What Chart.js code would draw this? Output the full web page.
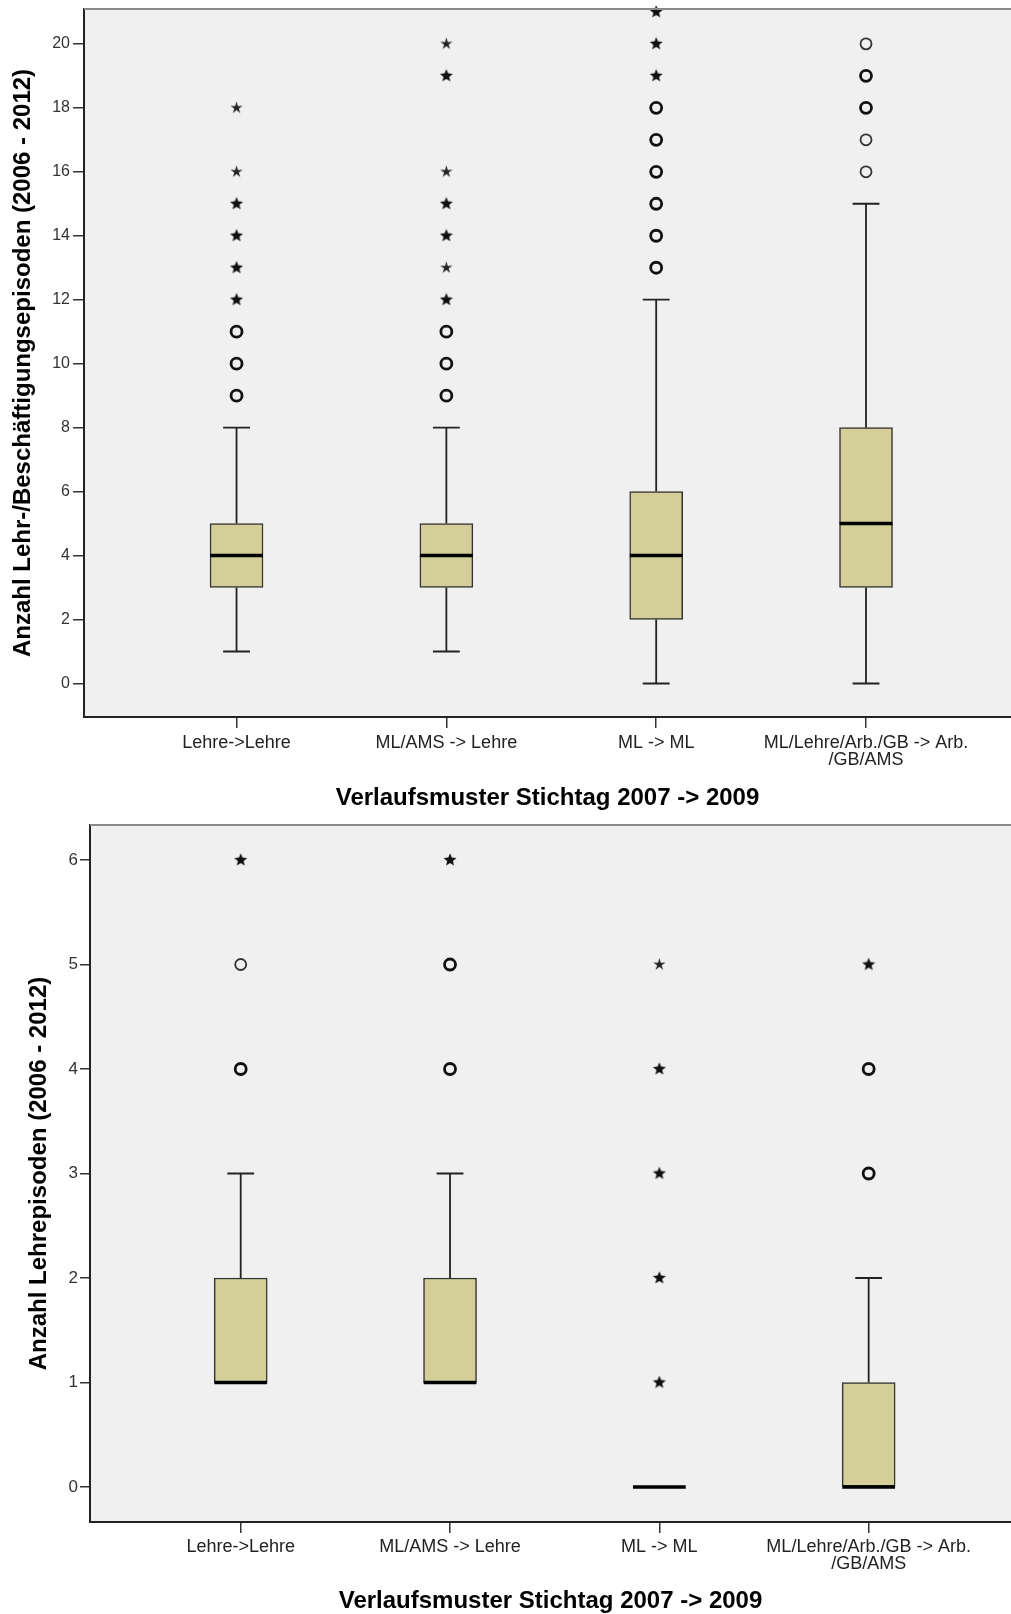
<!DOCTYPE html>
<html lang="de">
<head>
<meta charset="utf-8">
<title>Verlaufsmuster Stichtag 2007 -> 2009</title>
<script src="https://cdn.jsdelivr.net/npm/chart.js@4.4.1/dist/chart.umd.min.js"></script>
<style>
  body { margin: 0; background: #fff; overflow: hidden; }
  canvas { display: block; }
</style>
</head>
<body>
<canvas id="epiChart" width="1011" height="812"></canvas>
<canvas id="lehChart" width="1011" height="802"></canvas>
<script>
// -------------------------
// Data
// -------------------------
const categories = [
  ["Lehre->Lehre"],
  ["ML/AMS -> Lehre"],
  ["ML -> ML"],
  ["ML/Lehre/Arb./GB -> Arb.", "/GB/AMS"],
];
const xTitle = "Verlaufsmuster Stichtag 2007 -> 2009";

// Anzahl Lehr-/Beschäftigungsepisoden
const epiTicks = [0, 2, 4, 6, 8, 10, 12, 14, 16, 18, 20];
const epiLow = [1, 1, 0, 0];
const epiQ1 = [3, 3, 2, 3];
const epiMedian = [4, 4, 4, 5];
const epiQ3 = [5, 5, 6, 8];
const epiHigh = [8, 8, 12, 15];
const epiCircleBold = [[9, 10, 11], [9, 10, 11], [13, 14, 15, 16, 17, 18], [18, 19]];
const epiCircleThin = [[], [], [], [16, 17, 20]];
const epiStarBold = [[12, 13, 14, 15], [12, 14, 15, 19], [19, 20, 21], []];
const epiStarThin = [[16, 18], [13, 16, 20], [], []];

// Anzahl Lehrepisoden
const lehTicks = [0, 1, 2, 3, 4, 5, 6];
const lehLow = [1, 1, 0, 0];
const lehQ1 = [1, 1, 0, 0];
const lehMedian = [1, 1, 0, 0];
const lehQ3 = [2, 2, 0, 1];
const lehHigh = [3, 3, 0, 2];
const lehCircleBold = [[4], [4, 5], [], [3, 4]];
const lehCircleThin = [[5], [], [], []];
const lehStarBold = [[6], [6], [1, 2, 3, 4], [5]];
const lehStarThin = [[], [], [5], []];

// -------------------------
// Styles
// -------------------------
Chart.defaults.font.family = "'Liberation Sans', Arial, Helvetica, sans-serif";
const BOX_FILL = "#d4cf98";
const CAP = 0.064;      // half width of whisker caps (x units)
const HALF_BOX = 0.126; // half width of the box (x units)

function makeStar(outer, inner, color) {
  const c = document.createElement("canvas");
  const size = Math.ceil(outer * 2 + 2);
  c.width = size;
  c.height = size;
  const ctx = c.getContext("2d");
  ctx.fillStyle = color;
  ctx.beginPath();
  for (let k = 0; k < 10; k++) {
    const r = k % 2 ? inner : outer;
    const a = -Math.PI / 2 + (k * Math.PI) / 5;
    ctx.lineTo(size / 2 + r * Math.cos(a), size / 2 + r * Math.sin(a));
  }
  ctx.closePath();
  ctx.fill();
  return c;
}
const starBold = makeStar(6.8, 3.0, "#111");
const starThin = makeStar(6.5, 2.3, "#222");

// plot background + top frame line
const plotFrame = {
  id: "plotFrame",
  beforeDraw(chart) {
    const { ctx, chartArea: a } = chart;
    ctx.save();
    ctx.fillStyle = "#f0f0f0";
    ctx.fillRect(a.left, a.top, a.right - a.left, a.bottom - a.top);
    ctx.restore();
  },
  afterDatasetsDraw(chart) {
    const { ctx, chartArea: a } = chart;
    ctx.save();
    ctx.strokeStyle = "#8a8a8a";
    ctx.lineWidth = 2;
    ctx.beginPath();
    ctx.moveTo(a.left, a.top);
    ctx.lineTo(a.right, a.top);
    ctx.stroke();
    ctx.restore();
  },
};

// -------------------------
// Build box plot datasets
// -------------------------
function points(groups) {
  return groups.flatMap((vals, i) => vals.map(v => ({ x: i, y: v })));
}

function boxDatasets(d) {
  const whiskers = [];
  const medians = [];
  categories.forEach((_, i) => {
    if (d.high[i] > d.q3[i]) {
      whiskers.push({ x: i, y: d.q3[i] }, { x: i, y: d.high[i] }, { x: i, y: null });
      whiskers.push({ x: i - CAP, y: d.high[i] }, { x: i + CAP, y: d.high[i] }, { x: i, y: null });
    }
    if (d.low[i] < d.q1[i]) {
      whiskers.push({ x: i, y: d.q1[i] }, { x: i, y: d.low[i] }, { x: i, y: null });
      whiskers.push({ x: i - CAP, y: d.low[i] }, { x: i + CAP, y: d.low[i] }, { x: i, y: null });
    }
    medians.push({ x: i - HALF_BOX, y: d.median[i] }, { x: i + HALF_BOX, y: d.median[i] }, { x: i, y: null });
  });

  const marks = (data, style, width, color) => ({
    type: "line",
    showLine: false,
    order: 0,
    clip: false,
    data,
    pointStyle: style,
    pointRadius: 5.5,
    pointBorderWidth: width,
    pointBorderColor: color,
    pointBackgroundColor: "rgba(0,0,0,0)",
  });

  return [
    {
      type: "line",
      order: 3,
      data: whiskers,
      borderColor: "#222",
      borderWidth: 1.8,
      pointRadius: 0,
      spanGaps: false,
    },
    {
      type: "bar",
      order: 2,
      data: categories.map((_, i) => ({ x: i, y: [d.q1[i], d.q3[i]] })),
      backgroundColor: BOX_FILL,
      borderColor: "#333",
      borderWidth: 1.5,
      borderSkipped: false,
      barThickness: 53,
    },
    {
      type: "line",
      order: 1,
      data: medians,
      borderColor: "#000",
      borderWidth: 3.5,
      pointRadius: 0,
      spanGaps: false,
    },
    marks(points(d.circleBold), "circle", 2.8, "#111"),
    marks(points(d.circleThin), "circle", 1.8, "#333"),
    marks(points(d.starBold), starBold, 1, "#111"),
    marks(points(d.starThin), starThin, 1, "#333"),
  ];
}

// -------------------------
// Build chart
// -------------------------
function buildBoxChart(id, d, s) {
  return new Chart(document.getElementById(id), {
    type: "bar",
    data: { datasets: boxDatasets(d) },
    plugins: [plotFrame],
    options: {
      responsive: false,
      animation: false,
      events: [],
      devicePixelRatio: 1,
      layout: { autoPadding: false, padding: { top: s.padTop, left: 0, right: 0, bottom: 0 } },
      plugins: { legend: { display: false }, tooltip: { enabled: false } },
      scales: {
        x: {
          type: "linear",
          min: s.xMin,
          max: s.xMax,
          offset: false,
          afterBuildTicks: sc => { sc.ticks = categories.map((_, i) => ({ value: i })); },
          afterFit: sc => {
            sc.height = s.xHeight;
            sc.paddingLeft = 0;
            sc.paddingRight = 0;
          },
          ticks: {
            autoSkip: false,
            maxRotation: 0,
            minRotation: 0,
            padding: s.xTickPad,
            color: "#222",
            font: { size: 18, lineHeight: 0.97 },
            callback: v => categories[v],
          },
          grid: { offset: false, drawOnChartArea: false, drawTicks: true, tickLength: 11, color: "#333", lineWidth: 1.5 },
          border: { display: true, color: "#222", width: 2 },
          title: {
            display: true,
            text: xTitle,
            color: "#000",
            font: { size: 24, weight: "bold", lineHeight: 0.8 },
            padding: { top: 0, bottom: s.xTitlePad },
          },
        },
        y: {
          min: s.yMin,
          max: s.yMax,
          afterBuildTicks: sc => { sc.ticks = d.ticks.map(v => ({ value: v })); },
          afterFit: sc => {
            sc.width = s.yWidth;
            sc.paddingTop = 0;
            sc.paddingBottom = 0;
          },
          ticks: { padding: s.yTickPad, color: "#333", font: { size: s.yTickSize } },
          grid: { drawOnChartArea: false, drawTicks: true, tickLength: s.yTickLen, color: "#333", lineWidth: 1.5 },
          border: { display: true, color: "#222", width: 2 },
          title: {
            display: true,
            text: s.yTitle,
            color: "#000",
            font: { size: 24, weight: "bold", lineHeight: 1.2 },
            padding: { top: s.yTitlePad, bottom: 0 },
          },
        },
      },
    },
  });
}

buildBoxChart("epiChart", {
  ticks: epiTicks, low: epiLow, q1: epiQ1, median: epiMedian, q3: epiQ3, high: epiHigh,
  circleBold: epiCircleBold, circleThin: epiCircleThin, starBold: epiStarBold, starThin: epiStarThin,
}, {
  yTitle: "Anzahl Lehr-/Beschäftigungsepisoden (2006 - 2012)",
  yMin: -1.048, yMax: 21.09, xMin: -0.727, xMax: 3.691,
  padTop: 9, yWidth: 84, xHeight: 95,
  yTitlePad: 9, yTickPad: 3, yTickLen: 11, yTickSize: 16,
  xTickPad: 6, xTitlePad: 4.4,
});

buildBoxChart("lehChart", {
  ticks: lehTicks, low: lehLow, q1: lehQ1, median: lehMedian, q3: lehQ3, high: lehHigh,
  circleBold: lehCircleBold, circleThin: lehCircleThin, starBold: lehStarBold, starThin: lehStarThin,
}, {
  yTitle: "Anzahl Lehrepisoden (2006 - 2012)",
  yMin: -0.335, yMax: 6.335, xMin: -0.72, xMax: 3.68,
  padTop: 13, yWidth: 90, xHeight: 92,
  yTitlePad: 25, yTickPad: 2, yTickLen: 10, yTickSize: 17,
  xTickPad: 5, xTitlePad: 3.4,
});
</script>
</body>
</html>
